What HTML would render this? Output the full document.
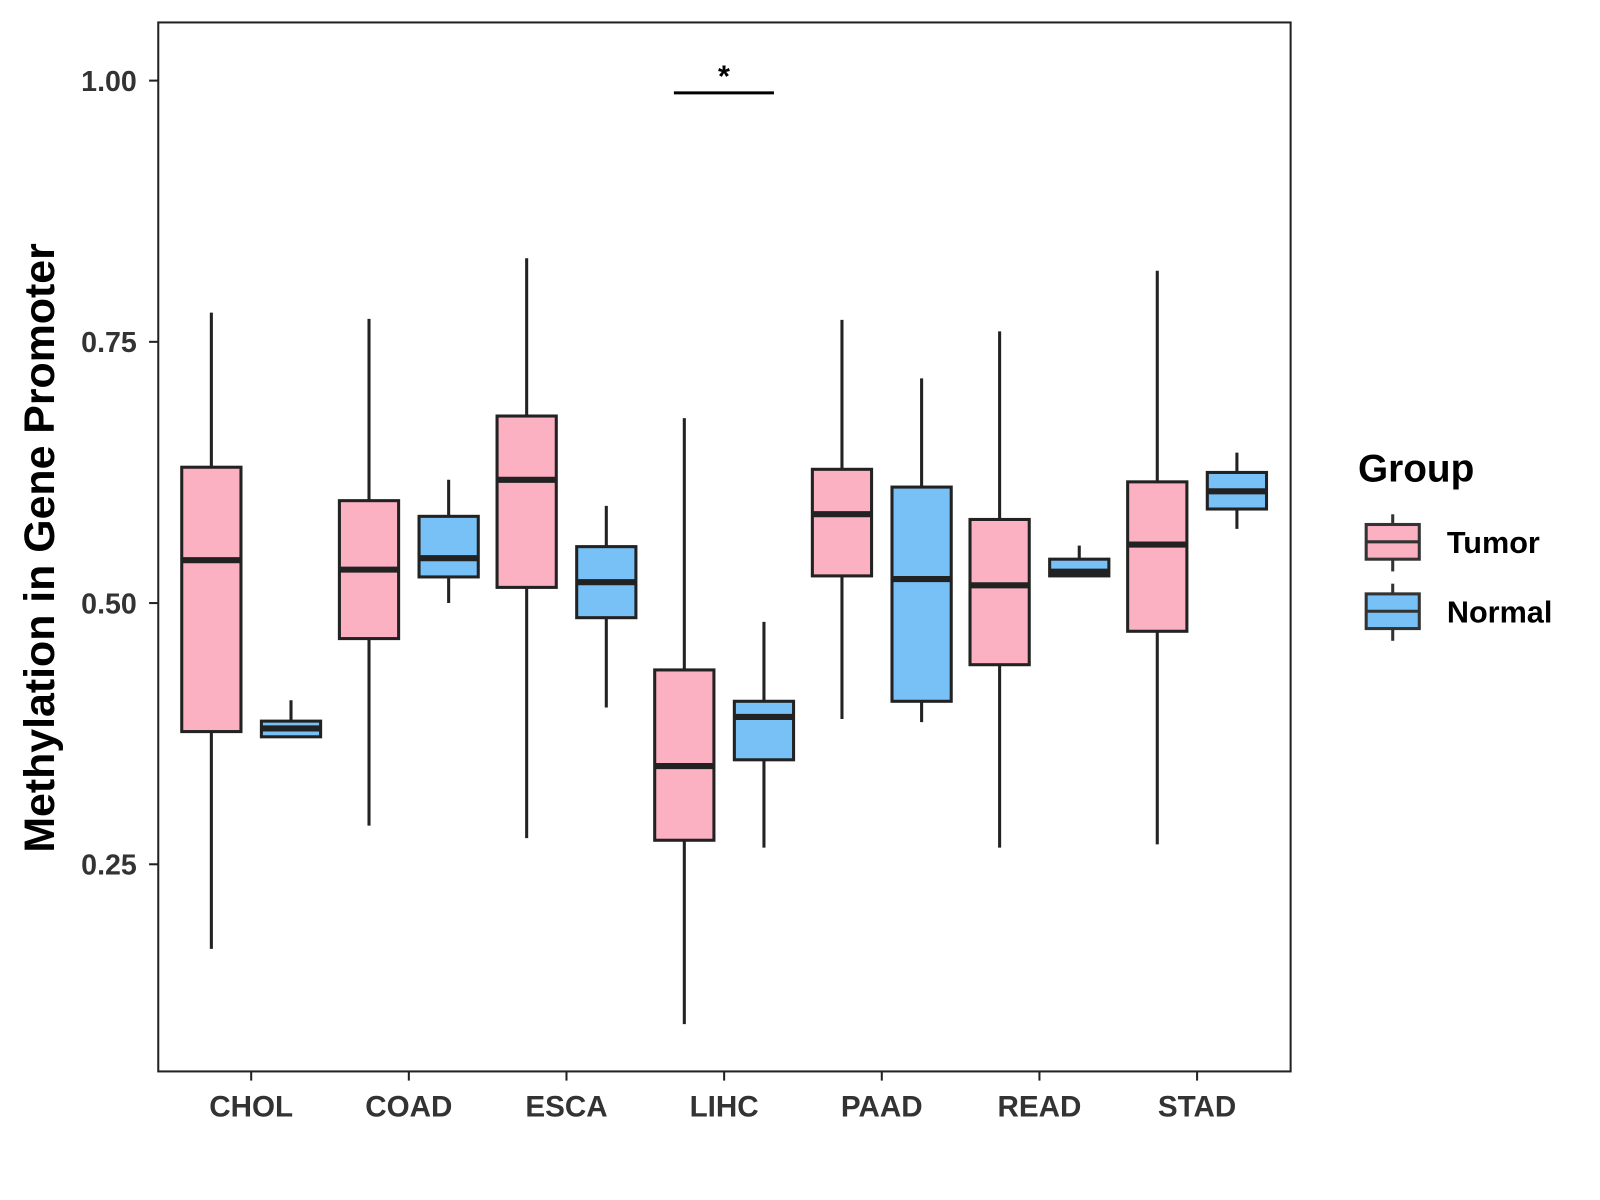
<!DOCTYPE html>
<html><head><meta charset="utf-8"><style>
html,body{margin:0;padding:0;background:#fff;}
svg{display:block;font-family:"Liberation Sans",Arial,sans-serif;}
</style></head><body>
<svg id="chart" width="1600" height="1200" viewBox="0 0 1567 1176" preserveAspectRatio="none">
<rect x="155" y="22" width="1109" height="1028" fill="#fff" stroke="#222" stroke-width="2"/>
<g id="boxes"></g>
<g id="axes"></g>
<line x1="660" y1="91" x2="758" y2="91" stroke="#000" stroke-width="3"/>
<text x="709" y="85" font-size="30" font-weight="bold" text-anchor="middle">*</text>
<text transform="translate(53,537) rotate(-90)" font-size="42" font-weight="bold" text-anchor="middle">Methylation in Gene Promoter</text>
<g>
<text x="1330" y="472" font-size="38" font-weight="bold">Group</text>
<g>
<line x1="1364" y1="504" x2="1364" y2="560" stroke="#333" stroke-width="3"/>
<rect x="1338" y="514" width="52" height="34" fill="#FCB1C3" stroke="#333" stroke-width="3"/>
<line x1="1338" y1="531" x2="1390" y2="531" stroke="#333" stroke-width="3"/>
<text x="1417" y="542" font-size="30" font-weight="bold">Tumor</text></g>
<g>
<line x1="1364" y1="572" x2="1364" y2="628" stroke="#333" stroke-width="3"/>
<rect x="1338" y="582" width="52" height="34" fill="#78C1F7" stroke="#333" stroke-width="3"/>
<line x1="1338" y1="599" x2="1390" y2="599" stroke="#333" stroke-width="3"/>
<text x="1417" y="610" font-size="30" font-weight="bold">Normal</text></g>
</g>
</svg>
<script>
const categories=["CHOL","COAD","ESCA","LIHC","PAAD","READ","STAD"];
// [low, q1, median, q3, high]
const tumorStats=[[0.169,0.377,0.541,0.630,0.778],[0.287,0.466,0.532,0.598,0.772],[0.275,0.515,0.618,0.679,0.830],[0.097,0.273,0.344,0.436,0.677],[0.389,0.526,0.585,0.628,0.771],[0.266,0.441,0.517,0.580,0.760],[0.269,0.473,0.556,0.616,0.818]];
const normalStats=[[0.372,0.372,0.380,0.387,0.407],[0.500,0.525,0.543,0.583,0.618],[0.400,0.486,0.520,0.554,0.593],[0.266,0.350,0.391,0.406,0.482],[0.386,0.406,0.523,0.611,0.715],[0.526,0.526,0.530,0.542,0.555],[0.571,0.590,0.607,0.625,0.644]];
const yTicks=[0.25,0.50,0.75,1.00];
const yTickLabels=["0.25","0.50","0.75","1.00"];
const NS="http://www.w3.org/2000/svg";
function yS(v){return 79+(1-v)*1024;}
function xS(i){return 246+i*154.4;}
function mk(t,a,p){const e=document.createElementNS(NS,t);for(const k in a)e.setAttribute(k,a[k]);p.appendChild(e);return e;}
const bg=document.getElementById('boxes'),ag=document.getElementById('axes');
function box(s,cx,fill,name){
  const g=mk('g',{},bg);
  
  
  mk('line',{x1:cx,x2:cx,y1:yS(s[4]),y2:yS(s[0]),stroke:'#222','stroke-width':3},g);
  mk('rect',{x:cx-29,y:yS(s[3]),width:58,height:Math.max(yS(s[1])-yS(s[3]),1),fill:fill,stroke:'#222','stroke-width':3},g);
  mk('line',{x1:cx-29,x2:cx+29,y1:yS(s[2]),y2:yS(s[2]),stroke:'#222','stroke-width':6},g);
}
categories.forEach((c,i)=>{
  box(tumorStats[i],xS(i)-39,'#FCB1C3','box-tumor-'+c.toLowerCase());
  box(normalStats[i],xS(i)+39,'#78C1F7','box-normal-'+c.toLowerCase());
  const tk=mk('line',{x1:xS(i),x2:xS(i),y1:1050,y2:1059,stroke:'#222','stroke-width':2},ag);
  
  
  const t=mk('text',{x:xS(i),y:1094,'font-size':29,'font-weight':'bold',fill:'#333','text-anchor':'middle'},ag);
  t.textContent=c;
  
  
});
yTicks.forEach((v,i)=>{
  const tk=mk('line',{x1:146,x2:155,y1:yS(v),y2:yS(v),stroke:'#222','stroke-width':2},ag);
  
  
  const t=mk('text',{x:134,y:yS(v)+10,'font-size':28,'font-weight':'bold',fill:'#333','text-anchor':'end'},ag);
  t.textContent=yTickLabels[i];
  
  
});
</script>
</body></html>
